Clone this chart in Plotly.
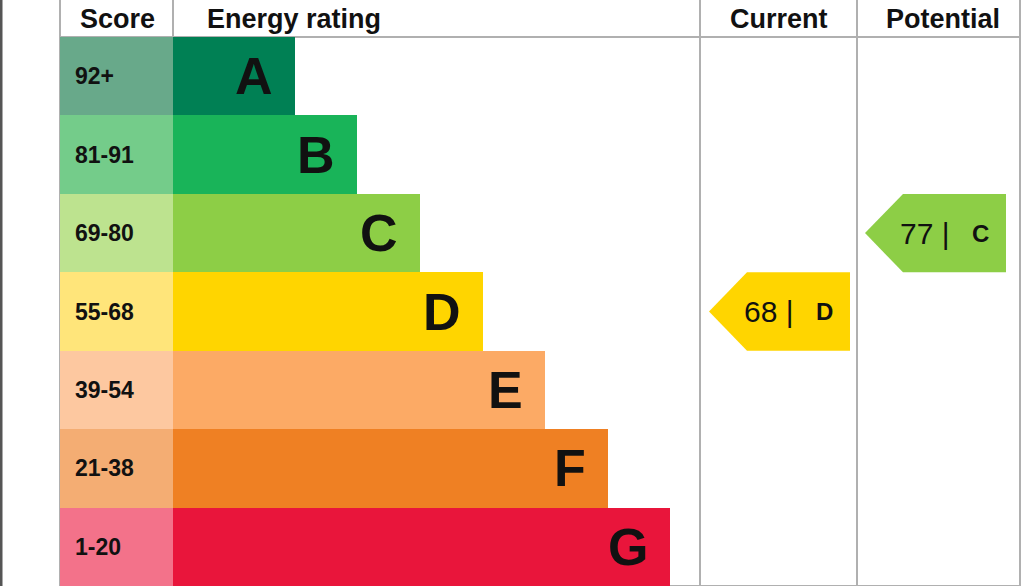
import plotly.graph_objects as go

bands = ['A', 'B', 'C', 'D', 'E', 'F', 'G']
ranges = ['92+', '81-91', '69-80', '55-68', '39-54', '21-38', '1-20']
bar_ends = [295, 357, 420, 483, 545, 608, 670]
band_colors = ['#008054', '#19b459', '#8dce46', '#ffd500', '#fcaa65', '#ef8023', '#e9153b']
score_colors = ['#68a98a', '#74cc8a', '#bde38f', '#ffe57a', '#fdc8a0', '#f4ad73', '#f3728a']
current_score, current_band = 68, 'D'
potential_score, potential_band = 77, 'C'

FONT = 'Liberation Sans, Arial, sans-serif'
SCORE_L, BAR_L = 60, 173
CUR_L, POT_L, RIGHT = 700, 857, 1020
HEADER = 37 / 78.3
GRID = '#b0b0b0'
rows = list(range(len(bands)))

fig = go.Figure()

fig.add_trace(go.Bar(
    y=rows, x=[BAR_L - SCORE_L] * len(rows), base=SCORE_L, orientation='h',
    width=1, marker=dict(color=score_colors, line=dict(width=0)),
    hoverinfo='skip'))

fig.add_trace(go.Bar(
    y=rows, x=[e - BAR_L for e in bar_ends], base=BAR_L, orientation='h',
    width=1, marker=dict(color=band_colors, line=dict(width=0)),
    hoverinfo='skip'))

for i, r in enumerate(ranges):
    fig.add_annotation(x=SCORE_L + 13, y=i, text='<b>%s</b>' % r, showarrow=False,
                       xanchor='left', font=dict(family=FONT, size=23, color='#111111'))

for i, b in enumerate(bands):
    fig.add_annotation(x=bar_ends[i] - 20, y=i, text='<b>%s</b>' % b, showarrow=False,
                       xanchor='right', font=dict(family=FONT, size=52, color='#111111'))


def arrow(score, band, left, right):
    i = bands.index(band)
    tip = 38
    xs = [left, left + tip, right, right, left + tip, left]
    ys = [i, i - 0.5, i - 0.5, i + 0.5, i + 0.5, i]
    fig.add_trace(go.Scatter(x=xs, y=ys, fill='toself', mode='lines',
                             line=dict(width=0), fillcolor=band_colors[i], hoverinfo='skip'))
    fig.add_annotation(x=left + 60, y=i, text='%d |' % score, showarrow=False,
                       font=dict(family=FONT, size=30, color='#111111'))
    fig.add_annotation(x=right - 26, y=i, text='<b>%s</b>' % band, showarrow=False,
                       font=dict(family=FONT, size=24, color='#111111'))


arrow(current_score, current_band, 709, 850)
arrow(potential_score, potential_band, 865, 1006)

headers = [('Score', 117), ('Energy rating', 294), ('Current', 779), ('Potential', 943)]
for t, x in headers:
    fig.add_annotation(x=x, y=-0.5 - HEADER / 2, text='<b>%s</b>' % t, showarrow=False,
                       font=dict(family=FONT, size=27, color='#111111'))

top, bot = -0.5 - HEADER, 6.5
lines = [
    (SCORE_L, top, SCORE_L, bot), (BAR_L, top, BAR_L, -0.5),
    (CUR_L, top, CUR_L, bot), (POT_L, top, POT_L, bot), (RIGHT, top, RIGHT, bot),
    (SCORE_L, -0.5, RIGHT, -0.5), (SCORE_L, bot, RIGHT, bot),
]
for x0, y0, x1, y1 in lines:
    fig.add_shape(type='line', x0=x0, y0=y0, x1=x1, y1=y1, line=dict(color=GRID, width=2), layer='below')
fig.add_shape(type='line', x0=1, y0=top, x1=1, y1=bot, line=dict(color='#555555', width=3))

fig.update_layout(
    width=1024, height=586, margin=dict(l=0, r=0, t=0, b=0),
    paper_bgcolor='white', plot_bgcolor='white', showlegend=False,
    barmode='overlay', bargap=0,
    xaxis=dict(range=[0, 1024], visible=False, fixedrange=True),
    yaxis=dict(range=[bot, top], visible=False, fixedrange=True),
)

fig.write_html('out.html', config={'displayModeBar': False},
               post_script="document.body.style.margin='0';")
